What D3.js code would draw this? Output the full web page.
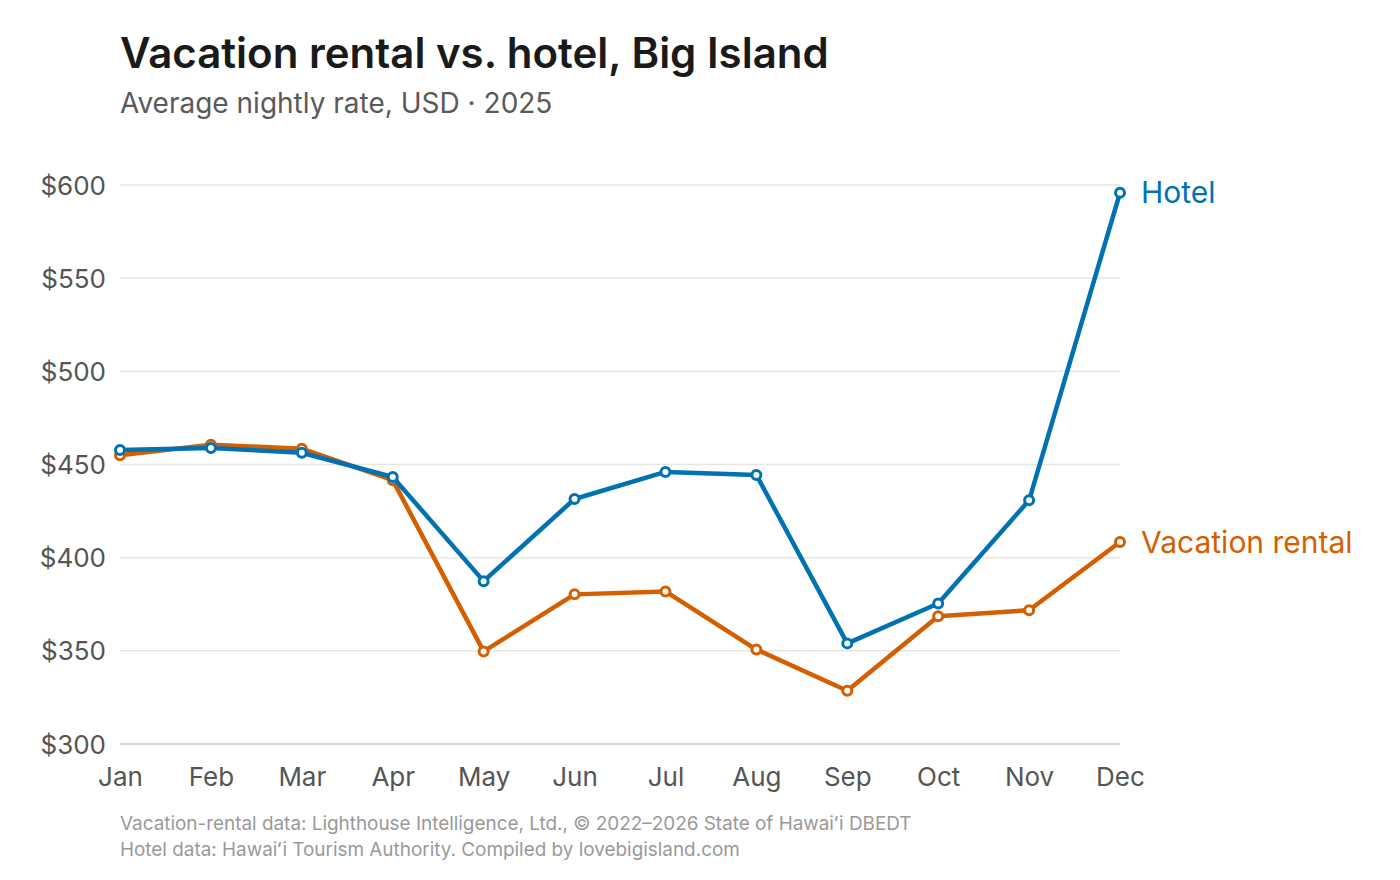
<!DOCTYPE html>
<html>
<head>
<meta charset="utf-8">
<script src="https://cdn.jsdelivr.net/npm/d3@7"></script>
<style>
  html, body { margin: 0; padding: 0; background: #fff; }
  svg { display: block; font-family: Inter, "Noto Sans", sans-serif; }
</style>
</head>
<body>
<svg id="chart"></svg>
<script>
const W = 1400;
const H = 880;

// ── Data ──────────────────────────────────────────────────────────────────────

const MONTHS = ['Jan', 'Feb', 'Mar', 'Apr', 'May', 'Jun', 'Jul', 'Aug', 'Sep', 'Oct', 'Nov', 'Dec'];

const HOTEL  = [457.8, 458.9, 456.3, 443.3, 387.4, 431.5, 446.0, 444.4, 354.0, 375.4, 430.8, 595.8];
const RENTAL = [455.0, 460.6, 458.5, 441.6, 349.7, 380.3, 381.9, 350.7, 328.6, 368.6, 371.8, 408.4];

const Y_TICKS = [300, 350, 400, 450, 500, 550, 600];

const SERIES = [
  { name: 'Vacation rental', values: RENTAL, color: '#d55e00' },
  { name: 'Hotel',           values: HOTEL,  color: '#0072b2' },
];

// ── Layout ────────────────────────────────────────────────────────────────────

const M = { left: 120, right: 280, top: 185, bottom: 136 };

const svg = d3.select('#chart').attr('width', W).attr('height', H);

const x = d3.scalePoint().domain(MONTHS).range([M.left, W - M.right]);
const y = d3.scaleLinear().domain([300, 600]).range([H - M.bottom, M.top]);

// ── Titles ────────────────────────────────────────────────────────────────────

svg.append('text')
  .attr('x', 120).attr('y', 68)
  .attr('font-size', 42).attr('font-weight', 600).attr('fill', '#1a1a1a')
  .text('Vacation rental vs. hotel, Big Island');

svg.append('text')
  .attr('x', 120).attr('y', 113)
  .attr('font-size', 28).attr('fill', '#5a5a5a')
  .text('Average nightly rate, USD · 2025');

// ── Grid & axes ───────────────────────────────────────────────────────────────

svg.append('g')
  .selectAll('line')
  .data(Y_TICKS)
  .join('line')
  .attr('x1', M.left).attr('x2', W - M.right)
  .attr('y1', d => y(d)).attr('y2', d => y(d))
  .attr('stroke', d => d === 300 ? '#c8c8c4' : '#e6e6e3')
  .attr('stroke-width', 1.5);

const yAxis = svg.append('g')
  .attr('transform', `translate(${M.left - 14},0)`)
  .call(d3.axisLeft(y).tickValues(Y_TICKS).tickFormat(d => '$' + d).tickSize(0).tickPadding(0));
yAxis.select('.domain').remove();
yAxis.selectAll('text')
  .attr('font-family', 'Inter, sans-serif')
  .attr('font-size', 26).attr('fill', '#555').attr('dy', '0.35em');

const xAxis = svg.append('g')
  .attr('transform', `translate(0,${H - M.bottom})`)
  .call(d3.axisBottom(x).tickSize(0).tickPadding(0));
xAxis.select('.domain').remove();
xAxis.selectAll('text')
  .attr('font-family', 'Inter, sans-serif')
  .attr('font-size', 26).attr('fill', '#555').attr('dy', 0).attr('y', 42);

// ── Lines ─────────────────────────────────────────────────────────────────────

const line = d3.line()
  .x((d, i) => x(MONTHS[i]))
  .y(d => y(d));

SERIES.forEach(s => {
  const g = svg.append('g');
  g.append('path')
    .attr('d', line(s.values))
    .attr('fill', 'none')
    .attr('stroke', s.color)
    .attr('stroke-width', 4.5)
    .attr('stroke-linejoin', 'round');

  g.selectAll('circle')
    .data(s.values)
    .join('circle')
    .attr('cx', (d, i) => x(MONTHS[i]))
    .attr('cy', d => y(d))
    .attr('r', 4.5)
    .attr('fill', '#fff')
    .attr('stroke', s.color)
    .attr('stroke-width', 3);

  const last = s.values[s.values.length - 1];
  g.append('text')
    .attr('x', x(MONTHS[MONTHS.length - 1]) + 21)
    .attr('y', y(last))
    .attr('dy', '0.35em')
    .attr('font-size', 30)
    .attr('fill', s.color)
    .text(s.name);
});

// ── Source note ───────────────────────────────────────────────────────────────

const note = svg.append('g').attr('font-size', 18.9).attr('fill', '#999');
note.append('text').attr('x', 120).attr('y', 830)
  .text('Vacation-rental data: Lighthouse Intelligence, Ltd., © 2022–2026 State of Hawaiʻi DBEDT');
note.append('text').attr('x', 120).attr('y', 856)
  .text('Hotel data: Hawaiʻi Tourism Authority. Compiled by lovebigisland.com');
</script>
</body>
</html>
